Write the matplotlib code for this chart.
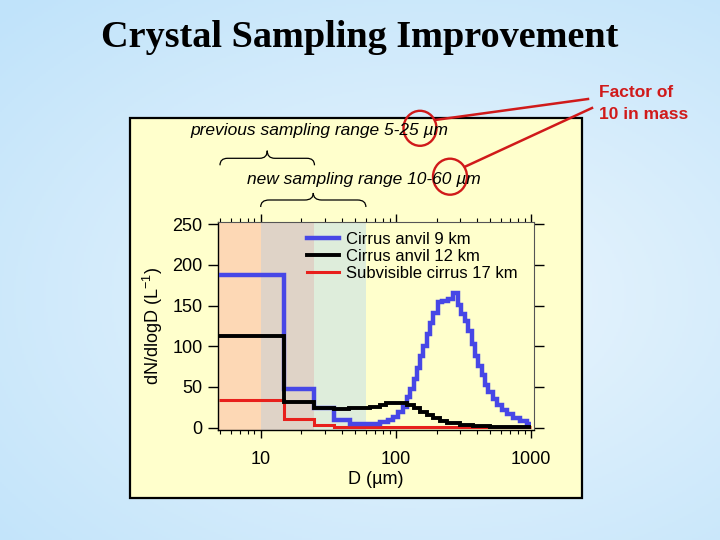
import numpy as np
import matplotlib
matplotlib.use("Agg")
import matplotlib.pyplot as plt
from matplotlib.patches import Rectangle, Ellipse, PathPatch
from matplotlib.path import Path
from matplotlib.lines import Line2D
from matplotlib.ticker import NullLocator, NullFormatter
from matplotlib.transforms import blended_transform_factory

plt.rcParams['font.family'] = ['Liberation Sans', 'DejaVu Sans']
plt.rcParams['mathtext.fontset'] = 'custom'
plt.rcParams['mathtext.rm'] = 'Liberation Sans'

# %%
# size distributions (bin edges in um, dN/dlogD in 1/L)

blue_edges = [4.9, 15, 25, 35, 46, 76, 88, 96, 104, 113, 120, 127, 135, 143,
              151, 160, 169, 179, 189, 204, 218, 244, 266, 286, 303, 325, 344,
              364, 385, 408, 432, 457, 483, 520, 557, 607, 661, 740, 829, 929,
              1000]
blue_vals = [187, 47, 24, 9, 4, 6.5, 9.3, 13.4, 19.5, 25.6, 37.7, 47.9, 60,
             73, 87.7, 100.6, 114.9, 129, 141, 154, 155.4, 158, 165.6, 151,
             139, 131, 119, 102.7, 88.5, 76, 64, 52.8, 43.8, 35.7, 27.6, 21.5,
             16.2, 11.4, 8.1, 4.5]

black_edges = [4.9, 15, 25, 35, 45, 64, 76, 85, 107, 120, 135, 151, 169, 189,
               212, 238, 298, 373, 497, 1000]
black_vals = [112, 31, 24.5, 23, 23.5, 25.6, 27.5, 30.8, 29.6, 27.5, 23.5,
              19.5, 15.4, 11.3, 8.5, 6, 3.2, 1.6, 0.7]

red_edges = [4.9, 15, 25, 35, 1000]
red_vals = [34, 10, 3, 0.8]

series_labels = ["Cirrus anvil 9 km", "Cirrus anvil 12 km",
                 "Subvisible cirrus 17 km"]

prev_range = (5, 25)
new_range = (10, 60)
x_ticks = [10, 100, 1000]
y_ticks = [0, 50, 100, 150, 200, 250]

# %%

W, H = 720, 540
RED = '#D01A1A'
BLUE = '#4747E6'


def fx(x):
    return x / W


def fy(y):
    return 1 - y / H


def pin(x, y):
    # pixel (from top-left) -> inches for dpi_scale_trans
    return x / 100, (H - y) / 100


fig = plt.figure(figsize=(7.2, 5.4), dpi=100)

# light blue slide background
bg = fig.add_axes([0, 0, 1, 1], zorder=-10)
yy, xx = np.mgrid[0:1:270j, 0:1:360j]
r = np.clip(np.sqrt(((xx - 0.6) / 0.85) ** 2 + ((yy - 0.55) / 0.75) ** 2), 0, 1)
c0 = np.array([236, 246, 253]) / 255
c1 = np.array([192, 227, 250]) / 255
bg.imshow(c0 + (c1 - c0) * r[..., None], extent=[0, 1, 0, 1],
          aspect='auto', origin='upper')
bg.axis('off')

# yellow panel
fig.add_artist(Rectangle((fx(130), fy(497.7)), fx(581.7 - 130),
                         (497.7 - 118.3) / H, transform=fig.transFigure,
                         facecolor='#FFFFCC', edgecolor='black', lw=1.6,
                         zorder=-5))

ax = fig.add_axes([0.3032, 0.2037, 0.4389, 0.3857])
ax.patch.set_visible(False)
ax.set_xscale('log')
xmin, xmax = 4.86, 1056
ax.set_xlim(xmin, xmax)
ax.set_ylim(-3, 253)

ax.axvspan(xmin, new_range[0], color='#FDD8B5', lw=0, zorder=0)
ax.axvspan(new_range[0], prev_range[1], color='#DFD3C7', lw=0, zorder=0)
ax.axvspan(prev_range[1], new_range[1], color='#DEEDDB', lw=0, zorder=0)

ax.stairs(red_vals, red_edges, baseline=None, color='#E8201C', lw=2.2, zorder=2)
ax.stairs(blue_vals, blue_edges, baseline=None, color=BLUE, lw=3.2, zorder=3)
ax.stairs(black_vals, black_edges, baseline=None, color='black', lw=2.8, zorder=4)

handles = [Line2D([], [], color=BLUE, lw=3.2),
           Line2D([], [], color='black', lw=2.8),
           Line2D([], [], color='#E8201C', lw=2.2)]
ax.legend(handles, series_labels, loc='upper left', bbox_to_anchor=(0.28, 0.953),
          frameon=False, fontsize=12, handlelength=1.95, handletextpad=0.4,
          labelspacing=0.14, borderpad=0, borderaxespad=0)

ax.set_xticks(x_ticks)
ax.set_xticklabels([str(t) for t in x_ticks])
ax.xaxis.set_minor_formatter(NullFormatter())
ax.set_yticks(y_ticks)
ax.yaxis.set_minor_locator(NullLocator())
ax.tick_params(axis='both', which='both', direction='out', top=True, right=True)
ax.tick_params(axis='x', which='major', length=5.8, width=1, pad=9.5, labelsize=13)
ax.tick_params(axis='x', which='minor', length=2.8, width=0.8)
ax.tick_params(axis='y', which='major', length=7.2, width=1, pad=4, labelsize=13)
for t in ax.yaxis.get_major_ticks():
    t.tick2line.set_color('#555555')
for t in ax.xaxis.get_major_ticks() + ax.xaxis.get_minor_ticks():
    t.tick2line.set_color('#333333')
for side in ['left', 'bottom']:
    ax.spines[side].set_linewidth(1.0)
for side in ['top', 'right']:
    ax.spines[side].set_color('#555555')
    ax.spines[side].set_linewidth(0.8)

ax.set_xlabel('D (\u00b5m)', fontsize=13)
ax.set_ylabel('dN/dlogD (L$^{-1}$)', fontsize=13)
ax.xaxis.set_label_coords(0.497, -0.195)
ax.yaxis.set_label_coords(-0.17, 0.5)

# %%
# annotations above the plot

fig.text(0.5, fy(47), 'Crystal Sampling Improvement',
         family=['Liberation Serif', 'DejaVu Serif'], weight='bold',
         size=27.5, ha='center', va='baseline')

fig.text(fx(190), fy(135), 'previous sampling range 5-25 \u00b5m',
         style='italic', fontsize=12.5, va='baseline')
fig.text(fx(246.7), fy(184), 'new sampling range 10-60 \u00b5m',
         style='italic', fontsize=12.5, va='baseline')

trans = blended_transform_factory(ax.transData, fig.transFigure)


def brace(x0, x1, y_line, drop, tip):
    l0, l1 = np.log10(x0), np.log10(x1)

    def X(u):
        return 10 ** (l0 + u * (l1 - l0))

    k = 0.08
    verts = [(X(0), y_line - drop), (X(0), y_line), (X(k), y_line),
             (X(0.5 - k), y_line), (X(0.5), y_line), (X(0.5), y_line + tip),
             (X(0.5), y_line), (X(0.5 + k), y_line),
             (X(1 - k), y_line), (X(1), y_line), (X(1), y_line - drop)]
    codes = [Path.MOVETO, Path.CURVE3, Path.CURVE3, Path.LINETO, Path.CURVE3,
             Path.CURVE3, Path.CURVE3, Path.CURVE3, Path.LINETO, Path.CURVE3,
             Path.CURVE3]
    fig.add_artist(PathPatch(Path(verts, codes), transform=trans, fill=False,
                             ec='black', lw=0.9))


brace(prev_range[0], prev_range[1], fy(158.3), 7 / H, 7.6 / H)
brace(new_range[0], new_range[1], fy(200), 7 / H, 7 / H)

for (cx, cy, w, h) in [(420, 128.3, 33, 35), (450, 176.7, 34, 36)]:
    fig.add_artist(Ellipse(pin(cx, cy), w / 100, h / 100,
                           transform=fig.dpi_scale_trans, fill=False,
                           ec=RED, lw=1.7))
for (x0, y0, x1, y1) in [(435, 120, 588, 99), (465, 166.7, 592, 108)]:
    p0, p1 = pin(x0, y0), pin(x1, y1)
    fig.add_artist(Line2D([p0[0], p1[0]], [p0[1], p1[1]],
                          transform=fig.dpi_scale_trans, color=RED, lw=1.8))

fig.text(fx(599), fy(96.7), 'Factor of', color=RED, weight='bold',
         fontsize=12.5, va='baseline')
fig.text(fx(599), fy(119), '10 in mass', color=RED, weight='bold',
         fontsize=12.5, va='baseline')

fig.savefig('out.png', dpi=100)
